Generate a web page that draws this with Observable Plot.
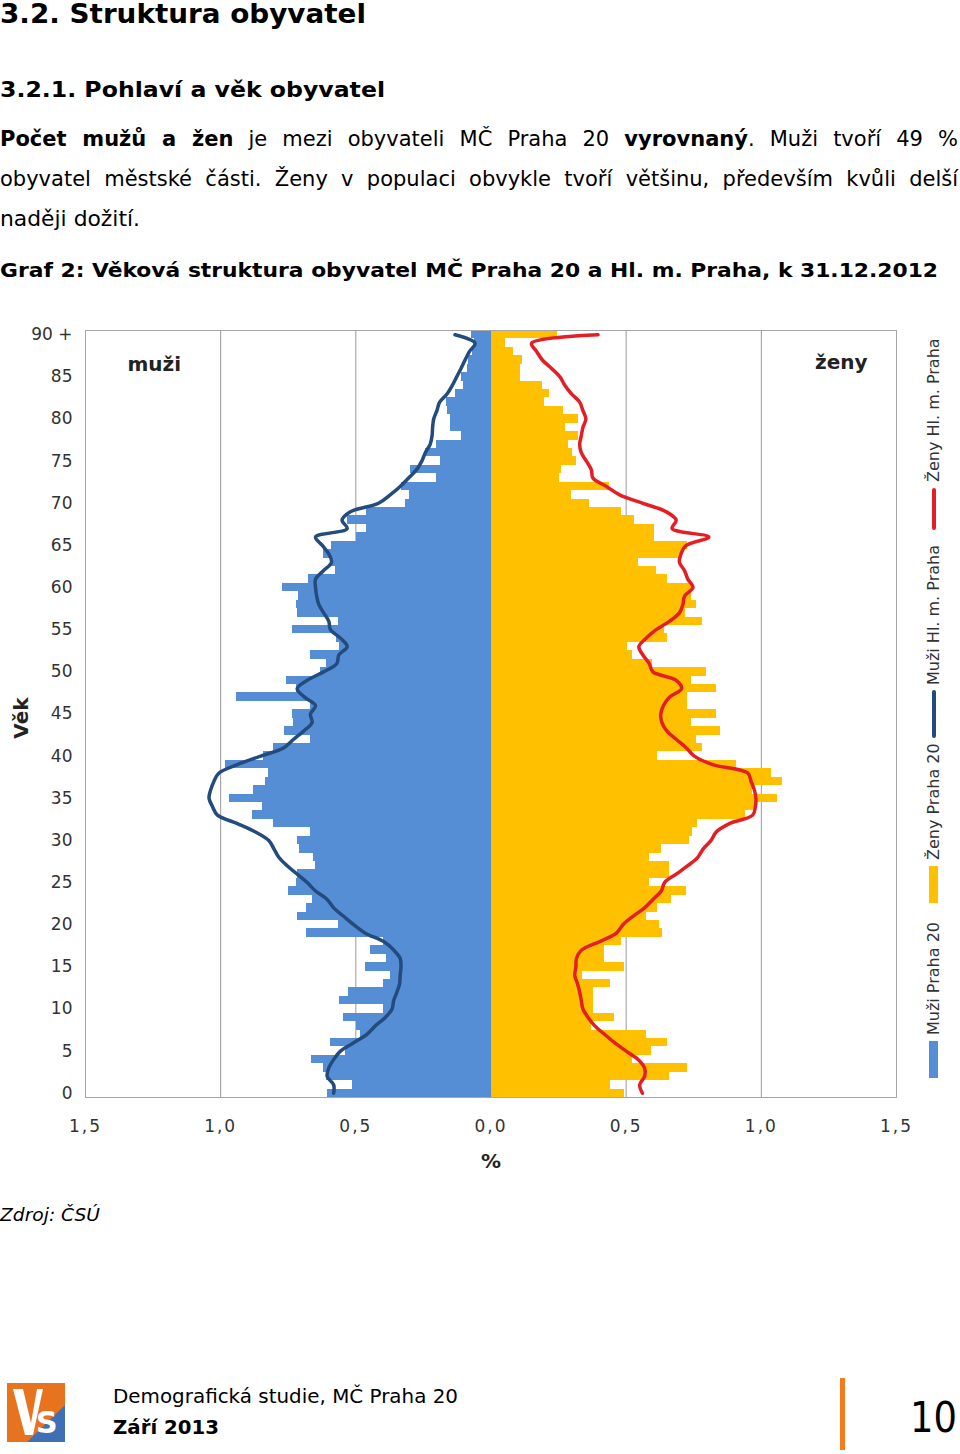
<!DOCTYPE html>
<html><head><meta charset="utf-8">
<script src="https://cdn.jsdelivr.net/npm/d3@7"></script>
<script src="https://cdn.jsdelivr.net/npm/@observablehq/plot@0.6"></script>
<style>
html,body{margin:0;padding:0;background:#fff;}
body{width:960px;height:1454px;position:relative;overflow:hidden;font-family:"DejaVu Sans",Verdana,sans-serif;color:#000;}
.t{position:absolute;left:0;white-space:nowrap;line-height:1;transform-origin:0 0;}
#chart{position:absolute;left:0;top:300px;}
#legend{position:absolute;left:925px;top:1078px;width:750px;height:18px;transform-origin:0 0;transform:rotate(-90deg);font-size:16px;color:#333;}
#legend div{position:absolute;white-space:nowrap;}
</style></head><body>
<div class="t" id="h1" style="top:0px;font-size:27px;font-weight:bold">3.2. Struktura obyvatel</div>
<div class="t" id="h2" style="top:79px;font-size:22px;font-weight:bold">3.2.1. Pohlaví a věk obyvatel</div>
<div class="t just" style="top:129px;font-size:21px"><span><b>Počet mužů a žen</b> je mezi obyvateli MČ Praha 20 <b>vyrovnaný</b>. Muži tvoří 49 %</span></div>
<div class="t just" style="top:169px;font-size:21px"><span>obyvatel městské části. Ženy v populaci obvykle tvoří většinu, především kvůli delší</span></div>
<div class="t" id="p3" style="top:209px;font-size:21px">naději dožití.</div>
<div class="t" id="cap" style="top:260px;font-size:20px;font-weight:bold">Graf 2: Věková struktura obyvatel MČ Praha 20 a Hl. m. Praha, k 31.12.2012</div>
<div id="chart"></div>
<div id="legend"></div>
<div class="t" id="src" style="top:1206px;font-size:18px;font-style:italic">Zdroj: ČSÚ</div>
<svg style="position:absolute;left:7px;top:1383px" width="58" height="59" viewBox="0 0 58 59">
  <rect x="0" y="0" width="58" height="59" fill="#e8731e"/>
  <polygon points="20,59 58,22 58,59" fill="#3f6fb5"/>
  <polygon points="6,6 16,6 24,40 30,6 36,6 26,52 18,52" fill="#fff"/>
  <text x="29" y="50" font-family="DejaVu Sans" font-weight="bold" font-size="30" fill="#fff">S</text>
</svg>
<div class="t" id="f1" style="left:113px;top:1387px;font-size:19px">Demografická studie, MČ Praha 20</div>
<div class="t" id="f2" style="left:113px;top:1418px;font-size:19px;font-weight:bold">Září 2013</div>
<div style="position:absolute;left:840px;top:1378px;width:5px;height:72px;background:#f47c20"></div>
<div class="t" id="pg" style="left:910px;top:1397px;font-size:42px">10</div>
<script>
// ---- data (percent of population), ages 0..90 (90 = 90+)
const ages = d3.range(0, 91);
const menP20 = [0.606,0.514,0.61,0.619,0.664,0.539,0.594,0.483,0.496,0.545,
 0.397,0.56,0.527,0.397,0.373,0.465,0.385,0.446,0.397,0.683,
 0.563,0.717,0.683,0.662,0.75,0.72,0.717,0.65,0.656,0.707,
 0.717,0.668,0.803,0.883,0.846,0.966,0.877,0.834,0.822,0.982,
 0.843,0.803,0.668,0.764,0.73,0.736,0.668,0.941,0.72,0.756,
 0.63,0.61,0.668,0.56,0.57,0.736,0.563,0.717,0.72,0.711,
 0.772,0.674,0.576,0.59,0.619,0.59,0.496,0.459,0.532,0.459,
 0.317,0.30,0.33,0.20,0.299,0.188,0.243,0.20,0.108,0.15,
 0.15,0.16,0.163,0.133,0.10,0.108,0.087,0.084,0.07,0.06,0.071];
const womenP20 = [0.494,0.443,0.66,0.728,0.525,0.593,0.654,0.574,0.371,0.457,
 0.378,0.378,0.378,0.442,0.338,0.494,0.42,0.42,0.482,0.636,
 0.624,0.577,0.617,0.669,0.722,0.587,0.66,0.66,0.587,0.63,
 0.734,0.747,0.765,0.943,0.98,1.06,0.968,1.079,1.039,0.909,
 0.617,0.781,0.759,0.848,0.74,0.835,0.728,0.728,0.835,0.74,
 0.798,0.599,0.525,0.504,0.654,0.642,0.781,0.72,0.759,0.74,
 0.747,0.654,0.611,0.544,0.71,0.728,0.605,0.605,0.531,0.482,
 0.365,0.298,0.439,0.255,0.26,0.317,0.30,0.285,0.322,0.277,
 0.322,0.267,0.199,0.215,0.19,0.11,0.11,0.117,0.082,0.052,0.245];
const menPraha = [0.582,0.582,0.606,0.60,0.582,0.557,0.508,0.459,0.428,0.391,
 0.366,0.36,0.348,0.338,0.336,0.333,0.336,0.36,0.397,0.465,
 0.508,0.545,0.582,0.606,0.649,0.68,0.717,0.754,0.785,0.803,
 0.822,0.871,0.938,1.012,1.03,1.043,1.037,1.025,1.006,0.938,
 0.852,0.766,0.73,0.692,0.662,0.668,0.649,0.69,0.717,0.68,
 0.619,0.57,0.563,0.532,0.557,0.594,0.60,0.619,0.637,0.645,
 0.649,0.649,0.62,0.59,0.60,0.624,0.649,0.532,0.551,0.52,
 0.416,0.373,0.336,0.305,0.275,0.256,0.243,0.225,0.218,0.216,
 0.212,0.20,0.19,0.162,0.143,0.127,0.111,0.096,0.08,0.059,0.133];
const womenPraha = [0.56,0.55,0.568,0.568,0.544,0.50,0.457,0.42,0.384,0.359,
 0.34,0.334,0.328,0.32,0.31,0.314,0.316,0.335,0.402,0.464,
 0.488,0.525,0.568,0.599,0.63,0.642,0.685,0.728,0.765,0.785,
 0.814,0.833,0.882,0.968,0.978,0.98,0.974,0.962,0.95,0.82,
 0.752,0.722,0.685,0.65,0.632,0.628,0.638,0.66,0.705,0.685,
 0.599,0.585,0.562,0.547,0.574,0.611,0.66,0.697,0.71,0.716,
 0.747,0.728,0.716,0.697,0.703,0.722,0.806,0.67,0.685,0.648,
 0.562,0.476,0.427,0.377,0.371,0.353,0.334,0.328,0.334,0.34,
 0.351,0.34,0.328,0.297,0.273,0.255,0.224,0.19,0.169,0.15,0.396];
const yTicks = d3.range(0, 91, 5);
const xTicks = [-1.5, -1, -0.5, 0, 0.5, 1, 1.5];
const gridX = [-1.5, -1, -0.5, 0.5, 1, 1.5];
const legendItems = [
  {label: "Muži Praha 20", color: "#558ed5", kind: "box"},
  {label: "Ženy Praha 20", color: "#ffc000", kind: "box"},
  {label: "Muži Hl. m. Praha", color: "#234b7e", kind: "line"},
  {label: "Ženy Hl. m. Praha", color: "#e31e24", kind: "line"}
];

const rows = ages.map((a, i) => ({age: a, m: menP20[i], w: womenP20[i], mp: menPraha[i], wp: womenPraha[i]}));
const fmt = d => Math.abs(d).toFixed(1).replace(".", ",");

const chart = Plot.plot({
  width: 960, height: 880,
  marginLeft: 85, marginRight: 64, marginTop: 30, marginBottom: 83,
  style: {fontFamily: "DejaVu Sans, Verdana, sans-serif", background: "transparent"},
  x: {domain: [-1.5, 1.5], axis: null},
  y: {domain: [-0.5, 90.5], axis: null},
  marks: [
    Plot.ruleX(gridX, {stroke: "#9a9a9a", strokeWidth: 1}),
    Plot.rect(rows, {x1: () => 0, x2: d => -d.m, y1: d => d.age - 0.5, y2: d => d.age + 0.5, fill: "#558ed5", shapeRendering: "crispEdges"}),
    Plot.rect(rows, {x1: () => 0, x2: d => d.w, y1: d => d.age - 0.5, y2: d => d.age + 0.5, fill: "#ffc000", shapeRendering: "crispEdges"}),
    Plot.line(rows, {x: d => -d.mp, y: "age", stroke: "#234b7e", strokeWidth: 3.5, curve: "catmull-rom"}),
    Plot.line(rows, {x: d => d.wp, y: "age", stroke: "#e31e24", strokeWidth: 3.5, curve: "catmull-rom"}),
    Plot.frame({stroke: "#a6a6a6", strokeWidth: 1}),
    Plot.text(yTicks, {x: -1.5, y: d => d, text: d => d === 90 ? "90 +" : String(d), dx: -13, textAnchor: "end", fontSize: 17, fill: "#333"}),
    Plot.text(xTicks, {x: d => d, y: -0.5, text: fmt, dy: 29, fontSize: 17, fill: "#333"}),
    Plot.text(["%"], {x: 0, y: -0.5, text: d => d, dy: 64, fontSize: 20, fontWeight: "bold", fill: "#222"}),
    Plot.text(["Věk"], {frameAnchor: "left", text: d => d, dx: -64, dy: 4, rotate: -90, textAnchor: "middle", lineAnchor: "middle", fontSize: 20, fontWeight: "bold", fill: "#222"}),
    Plot.text(["muži"], {frameAnchor: "top-left", text: d => d, dx: 42, dy: 34, textAnchor: "start", lineAnchor: "middle", fontSize: 20, fontWeight: "bold", fill: "#222"}),
    Plot.text(["ženy"], {frameAnchor: "top-right", text: d => d, dx: -29, dy: 32, textAnchor: "end", lineAnchor: "middle", fontSize: 20, fontWeight: "bold", fill: "#222"})
  ]
});
document.getElementById("chart").appendChild(chart);
// slightly spaced x tick labels, as in the original
d3.select(chart).selectAll("text").filter(function() { return /^\d,\d$/.test(this.textContent); }).attr("letter-spacing", "2px");

// legend (rotated)
const lg = document.getElementById("legend");
const pos = [[0, 37, 43], [175, 37, 218], [340, 48, 393], [548, 42, 596]];
legendItems.forEach((it, i) => {
  const [s, len, tx] = pos[i];
  const sw = document.createElement("div");
  sw.style.left = s + "px";
  sw.style.width = len + "px";
  if (it.kind === "box") { sw.style.top = "4px"; sw.style.height = "9px"; }
  else { sw.style.top = "7px"; sw.style.height = "4px"; sw.style.borderRadius = "2px"; }
  sw.style.background = it.color;
  lg.appendChild(sw);
  const t = document.createElement("div");
  t.textContent = it.label;
  t.style.left = tx + "px";
  t.style.top = "0px";
  t.style.lineHeight = "18px";
  lg.appendChild(t);
});

// fit helpers
function fit(id, w) {
  const el = document.getElementById(id);
  const r = el.getBoundingClientRect().width;
  el.style.transform = `scaleX(${w / r})`;
}
fit("h1", 366); fit("h2", 385); fit("cap", 938); fit("p3", 140);
fit("src", 100); fit("f1", 345); fit("f2", 106); fit("pg", 47);
document.querySelectorAll(".just").forEach(div => {
  const span = div.querySelector("span");
  const w = span.getBoundingClientRect().width;
  const n = (span.textContent.match(/ /g) || []).length;
  span.style.wordSpacing = ((958 - w) / n) + "px";
});
</script>
</body></html>
